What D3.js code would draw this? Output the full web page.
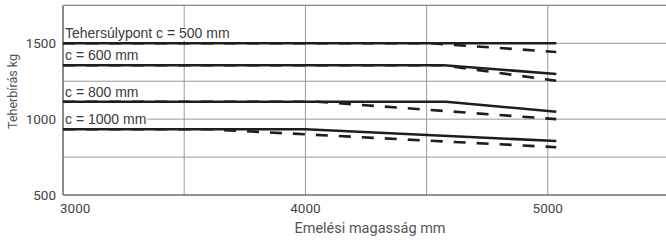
<!DOCTYPE html>
<html>
<head>
<meta charset="utf-8">
<script src="https://cdn.jsdelivr.net/npm/d3@7"></script>
<style>
  body { margin: 0; background: #fff; }
  svg { display: block; font-family: Roboto, "Liberation Sans", sans-serif; }
</style>
</head>
<body>
<div id="chart"></div>
<script>
// lift height (mm) vs capacity (kg), one curve per load centre
var curveLabels = ["Tehersúlypont c = 500 mm", "c = 600 mm", "c = 800 mm", "c = 1000 mm"];

var solidLines = [
    [[3000, 1500], [5035, 1500]],
    [[3000, 1355], [4570, 1355], [5035, 1298]],
    [[3000, 1115], [4580, 1115], [5035, 1049]],
    [[3000, 933], [4000, 933], [5035, 856]]
];

var dashedLines = [
    [[3000, 1500], [4520, 1500], [5035, 1443]],
    [[3000, 1355], [4570, 1355], [5035, 1253]],
    [[3000, 1115], [4050, 1115], [5035, 1000]],
    [[3000, 933], [3600, 933], [5035, 815]]
];

var xTicks = [3000, 4000, 5000];
var yTicks = [500, 1000, 1500];
var xGrid = [3500, 4000, 4500, 5000];
var yGrid = [750, 1000, 1250, 1500, 1750];

var W = 666, H = 244;

var svg = d3.select("#chart").append("svg")
    .attr("width", W)
    .attr("height", H);

var x = d3.scaleLinear().domain([3000, 5500]).range([63, 669]);
var y = d3.scaleLinear().domain([500, 1750]).range([195, 5.4]);

// grid
svg.append("g").selectAll("line")
    .data(xGrid)
    .enter().append("line")
    .attr("x1", function(d) { return x(d); })
    .attr("x2", function(d) { return x(d); })
    .attr("y1", y(1750))
    .attr("y2", y(500))
    .attr("stroke", "#9a9a9a")
    .attr("stroke-width", 1);

svg.append("g").selectAll("line")
    .data(yGrid)
    .enter().append("line")
    .attr("x1", x(3000))
    .attr("x2", W)
    .attr("y1", function(d) { return y(d); })
    .attr("y2", function(d) { return y(d); })
    .attr("stroke", "#9a9a9a")
    .attr("stroke-width", 1);

// label boxes (white behind text, hide grid)
var labelG = svg.append("g");
var labelText = labelG.selectAll("text")
    .data(curveLabels)
    .enter().append("text")
    .attr("x", x(3000) + 2)
    .attr("y", function(d, i) { return y(solidLines[i][0][1]) - 5; })
    .attr("font-family", "'Liberation Sans', Arial, sans-serif")
    .attr("font-size", 14)
    .attr("fill", "#3a3a3a")
    .text(function(d) { return d; });

labelText.each(function(d, i) {
    var bb = this.getBBox();
    labelG.insert("rect", "text")
        .attr("x", bb.x - 1)
        .attr("y", bb.y + 2)
        .attr("width", bb.width + 2)
        .attr("height", bb.height - 3)
        .attr("fill", "#fff");
});

// axes
svg.append("line")
    .attr("x1", x(3000)).attr("x2", x(3000))
    .attr("y1", y(1750)).attr("y2", y(500))
    .attr("stroke", "#6e6e6e").attr("stroke-width", 1.6);
svg.append("line")
    .attr("x1", x(3000)).attr("x2", W)
    .attr("y1", y(500)).attr("y2", y(500))
    .attr("stroke", "#6e6e6e").attr("stroke-width", 1.6);
svg.append("line")
    .attr("x1", x(3000)).attr("x2", W)
    .attr("y1", y(1750)).attr("y2", y(1750))
    .attr("stroke", "#8a8a8a").attr("stroke-width", 1.4);

var line = d3.line()
    .x(function(d) { return x(d[0]); })
    .y(function(d) { return y(d[1]); });

svg.append("g").selectAll("path")
    .data(dashedLines)
    .enter().append("path")
    .attr("d", line)
    .attr("fill", "none")
    .attr("stroke", "#1e1e1e")
    .attr("stroke-width", 2.6)
    .attr("stroke-dasharray", "12,11");

svg.append("g").selectAll("path")
    .data(solidLines)
    .enter().append("path")
    .attr("d", line)
    .attr("fill", "none")
    .attr("stroke", "#1e1e1e")
    .attr("stroke-width", 2.6);

// bring label text on top
labelG.raise();

// tick labels
svg.append("g").selectAll("text")
    .data(yTicks)
    .enter().append("text")
    .attr("x", 56)
    .attr("y", function(d) { return y(d) + 1; })
    .attr("text-anchor", "end")
    .attr("dominant-baseline", "middle")
    .attr("font-size", 13.5)
    .attr("fill", "#444")
    .text(function(d) { return d; });

svg.append("g").selectAll("text")
    .data(xTicks)
    .enter().append("text")
    .attr("x", function(d, i) { return i == 0 ? x(d) - 3 : x(d); })
    .attr("y", 213)
    .attr("text-anchor", function(d, i) { return i == 0 ? "start" : "middle"; })
    .attr("font-size", 13.5)
    .attr("fill", "#444")
    .text(function(d) { return d; });

// axis titles
svg.append("text")
    .attr("x", 370)
    .attr("y", 233)
    .attr("text-anchor", "middle")
    .attr("font-size", 14.5)
    .attr("fill", "#555")
    .text("Emelési magasság mm");

svg.append("text")
    .attr("transform", "translate(17,91.5) rotate(-90)")
    .attr("text-anchor", "middle")
    .attr("font-size", 12.5)
    .attr("fill", "#555")
    .text("Teherbírás kg");
</script>
</body>
</html>
